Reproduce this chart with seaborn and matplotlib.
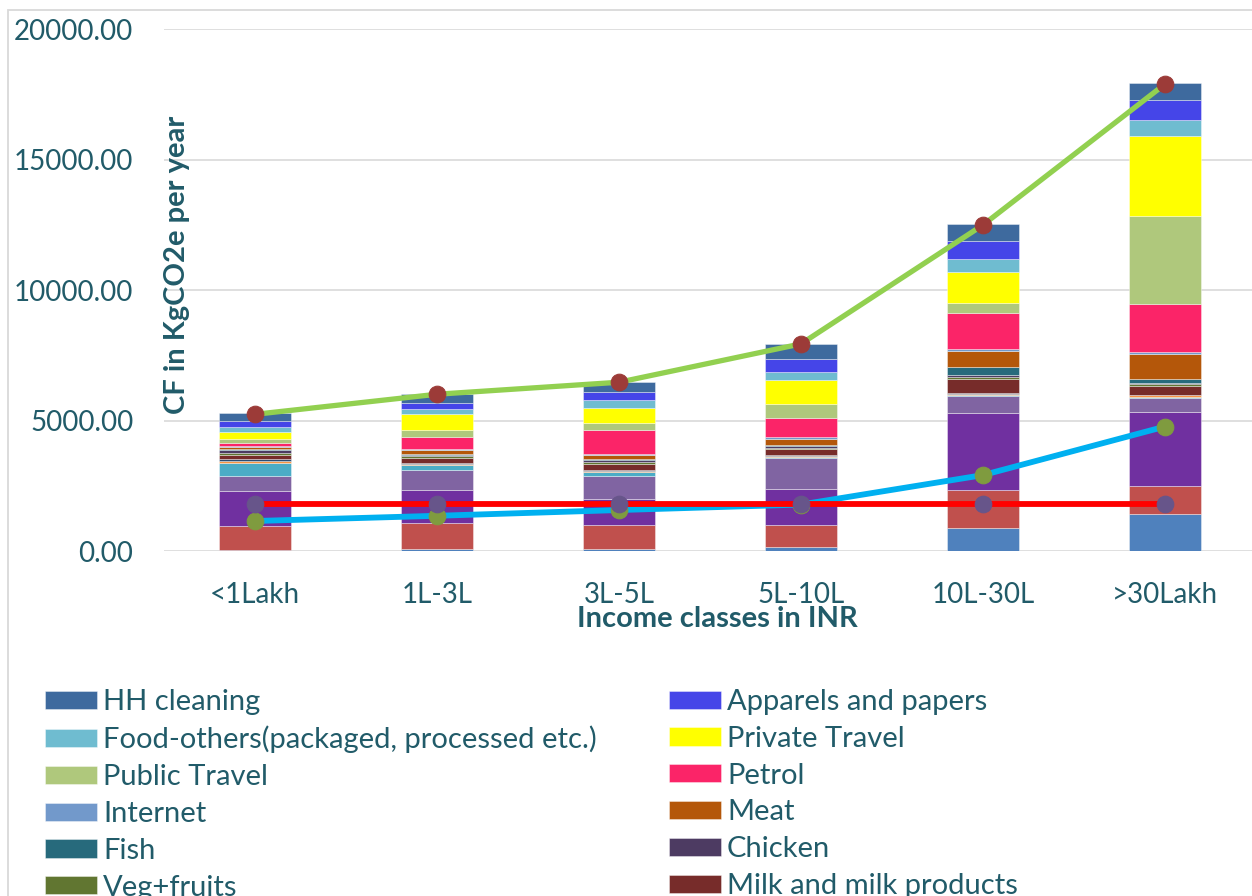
import numpy as np
import pandas as pd
import matplotlib
matplotlib.use("Agg")
import matplotlib.pyplot as plt
from matplotlib.patches import Rectangle
from matplotlib.ticker import FuncFormatter, MultipleLocator
import seaborn as sns

# ---------------- data ----------------
categories = ["<1Lakh", "1L-3L", "3L-5L", "5L-10L", "10L-30L", ">30Lakh"]

# stacked components (bottom -> top), kgCO2e per year
electricity = [51, 77, 64, 154, 872, 1436]
cooking_fuel = [923, 987, 936, 859, 1474, 1064]
cereals = [1333, 1256, 987, 1359, 2936, 2820]
pulses = [577, 795, 897, 1179, 641, 538]
edible_oil = [500, 167, 128, 64, 60, 40]
sugar = [77, 64, 64, 30, 43, 64]
spices = [51, 40, 40, 30, 30, 30]
milk = [180, 192, 218, 218, 538, 346]
veg_fruits = [77, 50, 60, 64, 64, 50]
chicken = [103, 64, 90, 64, 77, 60]
fish = [40, 40, 50, 40, 308, 128]
meat = [64, 128, 128, 218, 615, 962]
internet = [38, 38, 64, 77, 103, 103]
petrol = [128, 474, 930, 756, 1346, 1820]
public_travel = [154, 269, 256, 526, 410, 3397]
private_travel = [256, 600, 577, 923, 1179, 3051]
food_others = [218, 218, 295, 320, 487, 603]
apparels = [205, 231, 320, 474, 705, 769]
hh_cleaning = [308, 320, 364, 590, 641, 667]

total_cf = [5240, 6010, 6470, 7940, 12500, 17900]
limit_cf = [1800, 1800, 1800, 1800, 1800, 1800]
food_cf = [1150, 1350, 1570, 1780, 2910, 4770]

series_names = ["Electricity", "Cooking fuel", "Cereals", "Pulses", "Edible oil",
                "Sugar", "Spices", "Milk and milk products", "Veg+fruits", "Chicken",
                "Fish", "Meat", "Internet", "Petrol", "Public Travel", "Private Travel",
                "Food-others(packaged, processed etc.)", "Apparels and papers", "HH cleaning"]
series_values = [electricity, cooking_fuel, cereals, pulses, edible_oil, sugar, spices,
                 milk, veg_fruits, chicken, fish, meat, internet, petrol, public_travel,
                 private_travel, food_others, apparels, hh_cleaning]
series_colors = ["#4F81BD", "#C0504D", "#7030A0", "#8064A2", "#4BACC6", "#F79646",
                 "#2C4D75", "#772C2A", "#617631", "#4D3B62", "#276A7C", "#B4570A",
                 "#7299CB", "#FB2468", "#AFC87C", "#FFFF00", "#6FBCD0", "#4545E8",
                 "#3E6A9E"]

legend_col1 = ["HH cleaning", "Food-others(packaged, processed etc.)", "Public Travel",
               "Internet", "Fish", "Veg+fruits"]
legend_col2 = ["Apparels and papers", "Private Travel", "Petrol", "Meat", "Chicken",
               "Milk and milk products"]

df = pd.DataFrame(dict(zip(series_names, series_values)), index=categories)

# ---------------- style ----------------
sns.set_theme(style="white")
plt.rcParams["font.family"] = ["Lato", "DejaVu Sans"]
TXT = "#215B69"
GRID = "#D9D9D9"

W, H = 1252, 896
fig = plt.figure(figsize=(W / 100, H / 100), dpi=100)
fig.patch.set_facecolor("white")

ax_left, ax_right, ax_top, ax_bot = 164, 1256, 29.3, 551
ax = fig.add_axes([ax_left / W, (H - ax_bot) / H, (ax_right - ax_left) / W,
                   (ax_bot - ax_top) / H])

xpos = np.arange(len(categories))
bottom = np.zeros(len(categories))
handles = {}
for name, color in zip(series_names, series_colors):
    vals = df[name].to_numpy(dtype=float)
    bc = ax.bar(xpos, vals, width=0.4, bottom=bottom, color=color,
                edgecolor=(1, 1, 1, 0.45), linewidth=0.6, zorder=2)
    handles[name] = bc
    bottom += vals

# lines
sns.lineplot(x=xpos, y=food_cf, ax=ax, color="#00B0F0", linewidth=4.2, marker="o",
             markersize=12, markerfacecolor="#7F9B3F", markeredgecolor="#7F9B3F",
             zorder=4)
sns.lineplot(x=xpos, y=limit_cf, ax=ax, color="#FF0000", linewidth=4.2, marker="o",
             markersize=12, markerfacecolor="#67558A", markeredgecolor="#67558A",
             zorder=5)
sns.lineplot(x=xpos, y=total_cf, ax=ax, color="#92D050", linewidth=3.8, marker="o",
             markersize=12, markerfacecolor="#9C3B38", markeredgecolor="#9C3B38",
             zorder=6)

ax.set_xlim(-0.5, len(categories) - 0.5)
ax.set_ylim(0, 20000)
ax.yaxis.set_major_locator(MultipleLocator(5000))
ax.yaxis.set_major_formatter(FuncFormatter(lambda v, p: f"{v:.2f}"))
ax.set_xticks(xpos)
ax.set_xticklabels(categories)
ax.grid(axis="y", color=GRID, linewidth=1.2)
ax.grid(axis="x", visible=False)
ax.set_axisbelow(True)
for s in ax.spines.values():
    s.set_visible(False)
ax.tick_params(axis="y", length=0, pad=22, labelsize=20, labelcolor=TXT)
ax.tick_params(axis="x", length=0, pad=22, labelsize=20, labelcolor=TXT)

ax.set_xlabel("Income classes in INR", fontsize=21, fontweight="bold", color=TXT)
ax.xaxis.label.set_va("center")
ax.xaxis.set_label_coords((717 - ax_left) / (ax_right - ax_left),
                          -(619 - ax_bot) / (ax_bot - ax_top))
ax.set_ylabel("CF in KgCO2e per year", fontsize=21, fontweight="bold", color=TXT)
ax.yaxis.label.set_va("center")
ax.yaxis.set_label_coords((177 - ax_left) / (ax_right - ax_left),
                          (ax_bot - 265) / (ax_bot - ax_top))

# chart border (Excel chart area)
fig.add_artist(Rectangle((8 / W, -0.1), 1.2, (H - 10) / H + 0.1,
                         transform=fig.transFigure, fill=False,
                         edgecolor=GRID, linewidth=1.3, zorder=0))

# legend (two columns, bottom rows run off the canvas as in the reference)
lfs = 21
fpx = lfs * 100 / 72
common = dict(loc="upper left", frameon=False, fontsize=lfs, labelcolor=TXT,
              borderpad=0, borderaxespad=0, handlelength=52 / fpx,
              handleheight=17 / fpx, handletextpad=6 / fpx, labelspacing=0.37)
leg1 = fig.legend([handles[n] for n in legend_col1], legend_col1,
                  bbox_to_anchor=(45 / W, (H - 689) / H), **common)
leg2 = fig.legend([handles[n] for n in legend_col2], legend_col2,
                  bbox_to_anchor=(669 / W, (H - 689) / H), **common)

fig.savefig("out.png", dpi=100, facecolor="white")
